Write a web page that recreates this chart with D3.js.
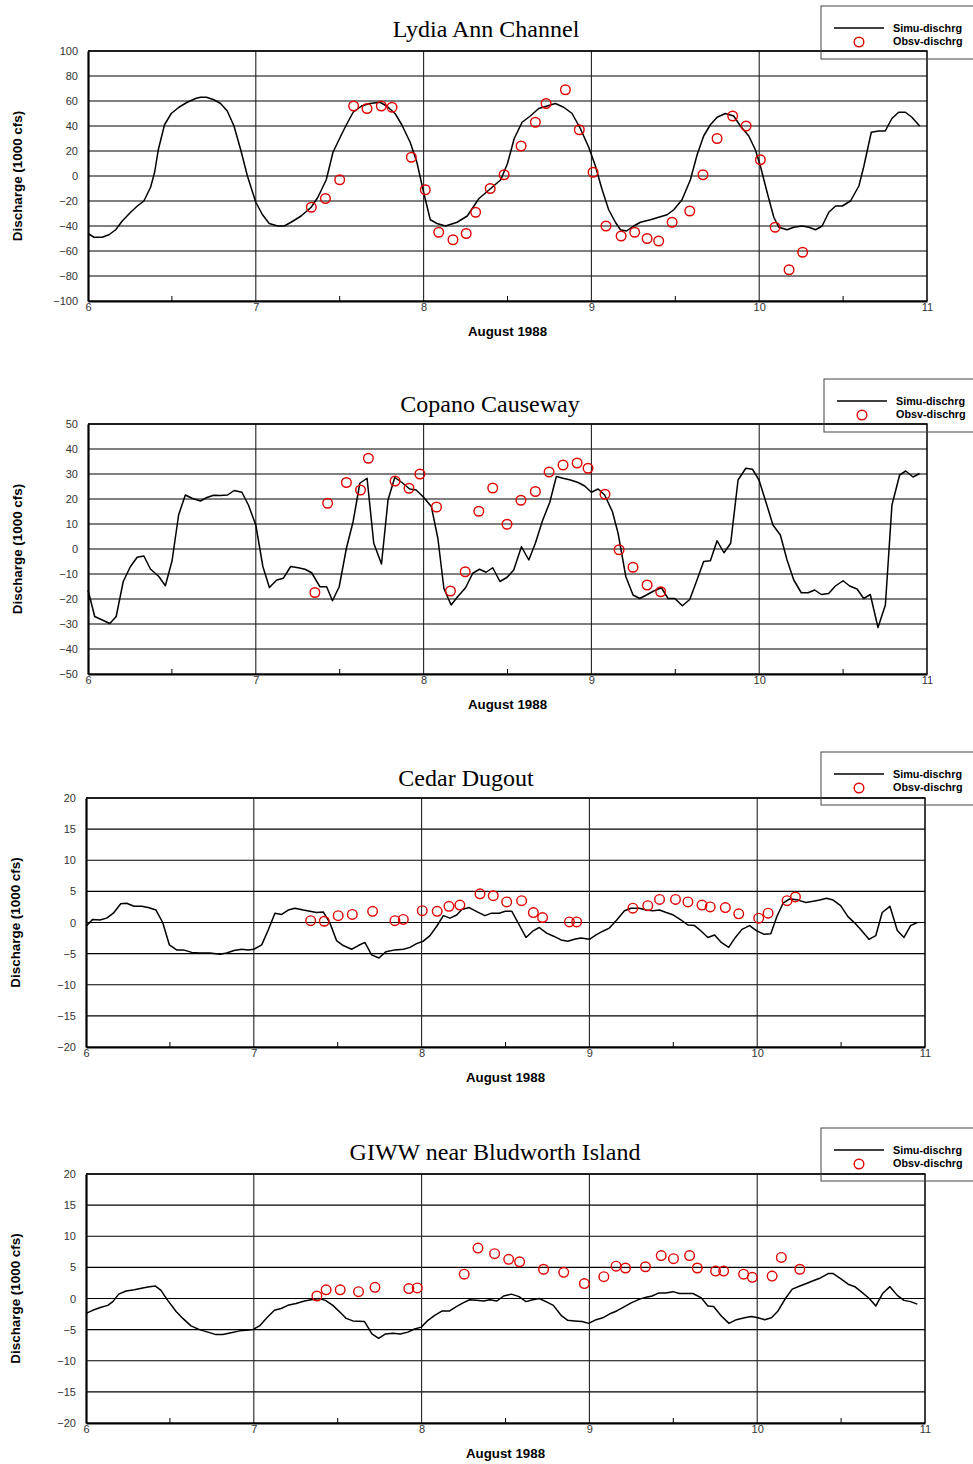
<!DOCTYPE html>
<html><head><meta charset="utf-8">
<script src="https://cdn.jsdelivr.net/npm/d3@7"></script>
<style>
body{margin:0;background:#fff;}
svg{display:block;}
</style></head>
<body>
<svg id="chart" width="973" height="1464"></svg>
<script>
// ---------------- DATA ----------------
const dayTicks = [6, 7, 8, 9, 10, 11];
const legendLabels = ["Simu-dischrg", "Obsv-dischrg"];
const xAxisTitle = "August 1988";
const yAxisTitle = "Discharge (1000 cfs)";
const panelTitles = ["Lydia Ann Channel", "Copano Causeway", "Cedar Dugout", "GIWW near Bludworth Island"];
const lydiaYTicks = [100, 80, 60, 40, 20, 0, -20, -40, -60, -80, -100];
const copanoYTicks = [50, 40, 30, 20, 10, 0, -10, -20, -30, -40, -50];
const cedarYTicks = [20, 15, 10, 5, 0, -5, -10, -15, -20];
const giwwYTicks = [20, 15, 10, 5, 0, -5, -10, -15, -20];

// Lydia Ann Channel
const lydiaSimDay = [6.0,6.036,6.085,6.125,6.165,6.204,6.254,6.294,6.333,6.373,6.397,6.419,6.456,6.496,6.542,6.591,6.641,6.67,6.706,6.75,6.79,6.83,6.87,6.91,6.95,7.0,7.04,7.08,7.13,7.17,7.21,7.27,7.33,7.37,7.42,7.46,7.51,7.54,7.58,7.63,7.68,7.74,7.78,7.83,7.87,7.92,7.96,8.0,8.04,8.08,8.13,8.2,8.26,8.33,8.40,8.46,8.50,8.54,8.587,8.636,8.686,8.736,8.785,8.835,8.885,8.934,8.984,9.024,9.064,9.103,9.143,9.173,9.209,9.252,9.292,9.352,9.401,9.451,9.491,9.540,9.590,9.630,9.669,9.709,9.749,9.798,9.848,9.888,9.938,9.977,10.007,10.047,10.087,10.117,10.166,10.206,10.256,10.296,10.336,10.375,10.415,10.455,10.495,10.544,10.594,10.624,10.668,10.712,10.751,10.791,10.831,10.871,10.910,10.956];
const lydiaSimQ = [-46,-49,-49,-47,-43,-36,-29,-24,-20,-9,3,21,41,50,55,59,62,63,63,61,58,52,40,21,0,-21,-31,-38,-40,-40,-37,-32,-25,-17,-3,19,33,41,51,56,58,59,56,50,41,27,11,-13,-35,-38,-40,-37,-32,-18,-10,-3,10,30,43,48,54,56,58,55,50,38,23,8,-11,-27,-37,-43,-44,-40,-37,-35,-33,-31,-27,-19,-3,17,32,41,47,50,48,40,32,21,8,-13,-33,-41,-43,-41,-40,-41,-43,-40,-29,-24,-24,-20,-8,8,35,36,36,46,51,51,47,40];
const lydiaObsDay = [7.331,7.415,7.5,7.583,7.663,7.748,7.812,7.927,8.01,8.09,8.175,8.254,8.31,8.397,8.48,8.581,8.666,8.73,8.845,8.928,9.01,9.087,9.177,9.258,9.332,9.401,9.481,9.586,9.665,9.749,9.842,9.922,10.007,10.095,10.178,10.259];
const lydiaObsQ = [-25,-18,-3,56,54,56,55,15,-11,-45,-51,-46,-29,-10,1,24,43,58,69,37,3,-40,-48,-45,-50,-52,-37,-28,1,30,48,40,13,-41,-75,-61];

// Copano Causeway
const copanoSimDay = [6.0,6.04,6.085,6.13,6.168,6.21,6.253,6.293,6.333,6.372,6.422,6.461,6.501,6.54,6.58,6.62,6.67,6.709,6.749,6.788,6.832,6.871,6.917,6.956,7.0,7.042,7.081,7.125,7.164,7.208,7.253,7.293,7.333,7.382,7.422,7.457,7.497,7.54,7.58,7.62,7.663,7.703,7.749,7.788,7.828,7.871,7.917,7.956,8.0,8.046,8.085,8.121,8.164,8.204,8.25,8.293,8.333,8.372,8.412,8.455,8.498,8.537,8.583,8.627,8.666,8.708,8.752,8.791,8.831,8.875,8.921,8.96,9.0,9.04,9.079,9.125,9.159,9.205,9.248,9.288,9.328,9.371,9.417,9.457,9.497,9.542,9.586,9.626,9.669,9.709,9.749,9.79,9.83,9.874,9.92,9.96,9.999,10.039,10.082,10.126,10.166,10.206,10.251,10.291,10.331,10.37,10.414,10.454,10.5,10.539,10.583,10.623,10.662,10.708,10.752,10.791,10.837,10.873,10.917,10.956];
const copanoSimQ = [-16.4,-27,-28.4,-29.8,-27,-13,-7,-3.3,-2.8,-8,-11,-14.7,-4.7,13.6,21.6,20.3,19.2,20.6,21.5,21.4,21.6,23.4,22.7,17.6,9.6,-7,-15.4,-12.4,-11.7,-7,-7.5,-8.1,-9.5,-15.1,-15.1,-20.7,-15.1,0.3,11,26.3,28.3,2.3,-6,19.6,28.6,26.6,24,23.6,20.7,17,4.3,-15.8,-22.4,-19,-15.5,-9.7,-8.1,-9.3,-7.5,-13,-11.3,-8.4,0.9,-4.4,2.3,11.2,18.7,29,28.3,27.6,26.6,25.2,22.7,24,21.6,15,6.3,-11,-18.4,-19.8,-18.4,-16.8,-15.5,-19.8,-19.8,-22.7,-20.2,-13,-5,-4.7,3.3,-1.5,2.3,27.6,32.3,31.9,27.6,19,9.6,5.6,-4.4,-12.4,-17.5,-17.5,-16.4,-18.2,-17.8,-14.8,-12.7,-14.8,-16,-19.8,-18.2,-31.4,-22.4,17.6,29.6,31.2,28.8,30.2];
const copanoObsDay = [7.352,7.428,7.54,7.624,7.671,7.83,7.913,7.978,8.077,8.16,8.248,8.329,8.412,8.497,8.58,8.666,8.748,8.831,8.915,8.98,9.081,9.165,9.248,9.332,9.413];
const copanoObsQ = [-17.4,18.3,26.6,23.6,36.3,27.2,24.3,30,16.8,-16.8,-9.1,15.1,24.4,9.9,19.5,23,30.8,33.6,34.4,32.3,21.9,-0.3,-7.3,-14.4,-17.1];

// Cedar Dugout
const cedarSimDay = [6.0,6.04,6.083,6.123,6.163,6.207,6.242,6.286,6.332,6.371,6.417,6.457,6.497,6.54,6.58,6.63,6.679,6.739,6.798,6.838,6.882,6.927,6.967,7.0,7.047,7.086,7.126,7.166,7.205,7.245,7.295,7.335,7.374,7.414,7.454,7.493,7.533,7.583,7.623,7.662,7.702,7.746,7.787,7.841,7.891,7.931,7.97,8.01,8.05,8.09,8.13,8.169,8.209,8.24,8.284,8.332,8.377,8.417,8.463,8.498,8.538,8.582,8.622,8.662,8.701,8.745,8.787,8.831,8.871,8.91,8.95,9.0,9.04,9.08,9.119,9.163,9.209,9.249,9.299,9.338,9.378,9.418,9.458,9.501,9.547,9.587,9.627,9.667,9.706,9.746,9.786,9.83,9.87,9.909,9.955,9.995,10.041,10.081,10.118,10.154,10.194,10.244,10.29,10.334,10.373,10.413,10.453,10.497,10.542,10.582,10.622,10.666,10.707,10.745,10.791,10.835,10.875,10.914,10.954];
const cedarSimQ = [-0.6,0.5,0.4,0.7,1.5,3.0,3.1,2.6,2.6,2.4,2.0,0,-3.6,-4.4,-4.4,-4.8,-4.9,-4.9,-5.1,-4.9,-4.5,-4.3,-4.4,-4.3,-3.6,-1.2,1.5,1.3,2.0,2.3,2.0,1.8,1.6,1.7,-0.1,-2.9,-3.7,-4.3,-3.7,-3.2,-5.2,-5.7,-4.7,-4.4,-4.3,-4.0,-3.4,-3.0,-2.1,-0.6,1.1,0.7,1.2,2.1,2.4,1.7,1.1,1.5,1.5,1.8,1.8,-0.4,-2.4,-1.4,-0.8,-1.7,-2.2,-2.8,-3.0,-2.7,-2.5,-2.7,-2.0,-1.4,-0.9,0.4,1.9,2.3,2.3,2.0,1.9,2.0,1.6,1.2,0.4,-0.4,-0.5,-1.4,-2.4,-2.0,-3.2,-4.0,-2.4,-1.1,-0.5,-1.3,-1.9,-1.8,1.0,3.1,3.8,3.6,3.2,3.4,3.6,3.9,3.6,2.7,0.9,-0.1,-1.3,-2.7,-2.1,1.6,2.6,-1.3,-2.4,-0.5,0];
const cedarObsDay = [7.339,7.42,7.503,7.587,7.708,7.841,7.891,8.004,8.093,8.163,8.228,8.348,8.427,8.507,8.596,8.666,8.721,8.881,8.924,9.259,9.348,9.418,9.513,9.587,9.671,9.72,9.81,9.89,10.009,10.065,10.178,10.228];
const cedarObsQ = [0.3,0.2,1.1,1.3,1.8,0.3,0.5,1.9,1.8,2.6,2.8,4.6,4.3,3.3,3.5,1.6,0.8,0.1,0.1,2.3,2.7,3.7,3.7,3.3,2.8,2.5,2.4,1.4,0.7,1.5,3.5,4.1];

// GIWW near Bludworth Island
const giwwSimDay = [6.0,6.04,6.09,6.13,6.16,6.195,6.239,6.288,6.338,6.378,6.414,6.447,6.487,6.537,6.577,6.626,6.676,6.726,6.775,6.815,6.865,6.915,6.954,6.994,7.034,7.078,7.123,7.163,7.203,7.252,7.302,7.342,7.388,7.427,7.471,7.517,7.551,7.59,7.66,7.704,7.744,7.785,7.829,7.873,7.918,7.958,7.998,8.038,8.078,8.123,8.167,8.207,8.247,8.286,8.326,8.37,8.406,8.449,8.489,8.535,8.581,8.622,8.662,8.701,8.741,8.785,8.831,8.871,8.91,8.956,8.996,9.04,9.08,9.119,9.163,9.209,9.249,9.299,9.338,9.374,9.414,9.454,9.498,9.537,9.577,9.617,9.667,9.706,9.74,9.786,9.832,9.876,9.925,9.965,10.005,10.045,10.085,10.124,10.168,10.209,10.254,10.293,10.337,10.377,10.423,10.453,10.497,10.542,10.582,10.628,10.668,10.707,10.747,10.791,10.835,10.875,10.914,10.954];
const giwwSimQ = [-2.4,-1.9,-1.4,-1.1,-0.5,0.7,1.2,1.4,1.7,1.9,2.0,1.3,-0.3,-2.1,-3.2,-4.4,-5.0,-5.4,-5.8,-5.8,-5.5,-5.2,-5.1,-5.0,-4.4,-3.1,-1.9,-1.6,-1.1,-0.8,-0.4,-0.2,0,-0.3,-1.1,-2.3,-3.2,-3.6,-3.7,-5.7,-6.4,-5.7,-5.6,-5.7,-5.4,-4.9,-4.6,-3.5,-2.7,-2.0,-2.0,-1.3,-0.7,-0.2,-0.3,-0.4,-0.2,-0.4,0.4,0.7,0.3,-0.5,-0.2,0,-0.5,-1.1,-2.7,-3.5,-3.6,-3.7,-4.0,-3.4,-3.1,-2.5,-2.0,-1.3,-0.7,-0.1,0.2,0.4,0.9,0.9,1.1,0.8,0.8,0.8,0.1,-1.2,-1.3,-2.8,-4.0,-3.4,-3.1,-2.9,-3.1,-3.4,-3.1,-2.0,0,1.5,2.0,2.4,2.9,3.3,4.0,4.0,3.2,2.3,1.9,0.9,0,-1.2,0.8,1.9,0.5,-0.3,-0.5,-0.9];
const giwwObsDay = [7.376,7.431,7.515,7.624,7.722,7.924,7.974,8.254,8.336,8.435,8.519,8.584,8.727,8.847,8.97,9.086,9.159,9.215,9.334,9.428,9.501,9.597,9.643,9.752,9.8,9.919,9.971,10.089,10.144,10.254];
const giwwObsQ = [0.4,1.4,1.4,1.1,1.8,1.6,1.7,3.9,8.1,7.2,6.3,5.9,4.7,4.2,2.4,3.5,5.2,4.9,5.1,6.9,6.4,6.9,4.9,4.4,4.4,3.9,3.4,3.6,6.6,4.7];

// ---------------- LAYOUT ----------------
const panels = [
  {title: panelTitles[0], titleX: 486, titleY: 36, left: 88, right: 927, top: 51, bottom: 301, yDom: [-100, 100], yTicks: lydiaYTicks,
   simDay: lydiaSimDay, simQ: lydiaSimQ, obsDay: lydiaObsDay, obsQ: lydiaObsQ, legX: 821, legY: 6, yTitleX: 22},
  {title: panelTitles[1], titleX: 490, titleY: 411, left: 88, right: 927, top: 424, bottom: 674, yDom: [-50, 50], yTicks: copanoYTicks,
   simDay: copanoSimDay, simQ: copanoSimQ, obsDay: copanoObsDay, obsQ: copanoObsQ, legX: 824, legY: 379, yTitleX: 22},
  {title: panelTitles[2], titleX: 466, titleY: 785, left: 86, right: 925, top: 798, bottom: 1047, yDom: [-20, 20], yTicks: cedarYTicks,
   simDay: cedarSimDay, simQ: cedarSimQ, obsDay: cedarObsDay, obsQ: cedarObsQ, legX: 821, legY: 752, yTitleX: 20},
  {title: panelTitles[3], titleX: 495, titleY: 1159, left: 86, right: 925, top: 1174, bottom: 1423, yDom: [-20, 20], yTicks: giwwYTicks,
   simDay: giwwSimDay, simQ: giwwSimQ, obsDay: giwwObsDay, obsQ: giwwObsQ, legX: 821, legY: 1128, yTitleX: 20}
];

const svg = d3.select("#chart");
svg.append("rect").attr("width", 973).attr("height", 1464).attr("fill", "#fff");

panels.forEach(p => {
  const g = svg.append("g");
  const x = d3.scaleLinear().domain([6, 11]).range([p.left, p.right]);
  const y = d3.scaleLinear().domain(p.yDom).range([p.bottom, p.top]);

  // horizontal gridlines
  g.append("g").selectAll("line").data(p.yTicks).join("line")
    .attr("x1", p.left).attr("x2", p.right)
    .attr("y1", d => y(d)).attr("y2", d => y(d))
    .attr("stroke", "#000").attr("stroke-width", 1.1);
  // vertical gridlines at integer days
  g.append("g").selectAll("line").data(dayTicks.slice(1, -1)).join("line")
    .attr("x1", d => x(d)).attr("x2", d => x(d))
    .attr("y1", p.top).attr("y2", p.bottom)
    .attr("stroke", "#222").attr("stroke-width", 1.1);

  // frame: top & right
  g.append("path")
    .attr("d", `M${p.left},${p.top}H${p.right}V${p.bottom}`)
    .attr("fill", "none").attr("stroke", "#000").attr("stroke-width", 1.5);

  // y axis
  const yAxis = d3.axisLeft(y).tickValues(p.yTicks).tickSize(0).tickPadding(10).tickFormat(d3.format("d"));
  const ya = g.append("g").attr("transform", `translate(${p.left},0)`).call(yAxis);
  ya.select(".domain").attr("stroke", "#000").attr("stroke-width", 2.2);
  ya.selectAll("text").attr("font-family", "Arial, 'Liberation Sans', sans-serif").attr("font-size", 11).attr("fill", "#333");

  // x axis
  const xAxis = d3.axisBottom(x).tickValues(dayTicks).tickSize(0).tickPadding(2).tickFormat(d3.format("d"));
  const xa = g.append("g").attr("transform", `translate(0,${p.bottom})`).call(xAxis);
  xa.select(".domain").attr("stroke", "#000").attr("stroke-width", 2.2);
  xa.selectAll("text").attr("font-family", "Arial, 'Liberation Sans', sans-serif").attr("font-size", 11).attr("fill", "#333");
  // minor half-day ticks pointing up
  const half = d3.range(6.5, 11, 1);
  g.append("g").selectAll("line").data(half).join("line")
    .attr("x1", d => x(d)).attr("x2", d => x(d))
    .attr("y1", p.bottom).attr("y2", p.bottom - 5)
    .attr("stroke", "#000").attr("stroke-width", 1);

  // simulated line
  const pts = p.simDay.map((d, i) => [d, p.simQ[i]]);
  g.append("path").datum(pts)
    .attr("d", d3.line().x(d => x(d[0])).y(d => y(d[1])))
    .attr("fill", "none").attr("stroke", "#000").attr("stroke-width", 1.5).attr("stroke-linejoin", "round");

  // observed circles
  const obs = p.obsDay.map((d, i) => [d, p.obsQ[i]]);
  g.append("g").selectAll("circle").data(obs).join("circle")
    .attr("cx", d => x(d[0])).attr("cy", d => y(d[1])).attr("r", 4.8)
    .attr("fill", "none").attr("stroke", "#e00000").attr("stroke-width", 1.4);

  // title
  g.append("text").attr("x", p.titleX).attr("y", p.titleY + 1)
    .attr("text-anchor", "middle").attr("font-family", "'Times New Roman', 'Liberation Serif', serif")
    .attr("font-size", 24).text(p.title);

  // x axis title
  g.append("text").attr("x", (p.left + p.right) / 2).attr("y", p.bottom + 35)
    .attr("text-anchor", "middle").attr("font-family", "Arial, 'Liberation Sans', sans-serif")
    .attr("font-size", 13.3).attr("font-weight", "bold").text(xAxisTitle);

  // y axis title
  g.append("text").attr("transform", `translate(${p.yTitleX},${(p.top + p.bottom) / 2}) rotate(-90)`)
    .attr("text-anchor", "middle").attr("font-family", "Arial, 'Liberation Sans', sans-serif")
    .attr("font-size", 13.4).attr("font-weight", "bold").text(yAxisTitle);

  // legend
  const lg = g.append("g").attr("transform", `translate(${p.legX},${p.legY})`);
  lg.append("rect").attr("x", 0).attr("y", 0).attr("width", 170).attr("height", 53)
    .attr("fill", "none").attr("stroke", "#444").attr("stroke-width", 1);
  lg.append("line").attr("x1", 13).attr("x2", 63).attr("y1", 22).attr("y2", 22)
    .attr("stroke", "#000").attr("stroke-width", 1.5);
  lg.append("circle").attr("cx", 38).attr("cy", 36).attr("r", 4.8)
    .attr("fill", "none").attr("stroke", "#e00000").attr("stroke-width", 1.4);
  lg.selectAll("text.leg").data(legendLabels).join("text").attr("class", "leg")
    .attr("x", 72).attr("y", (d, i) => 26 + i * 13)
    .attr("font-family", "Arial, 'Liberation Sans', sans-serif").attr("font-size", 10.8)
    .attr("font-weight", "bold").text(d => d);
});
</script>
</body></html>
